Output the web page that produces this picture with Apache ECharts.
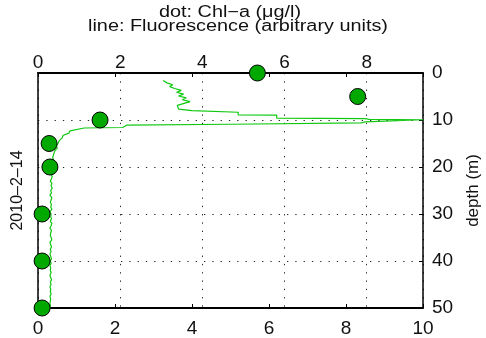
<!DOCTYPE html>
<html><head><meta charset="utf-8">
<script src="https://cdn.jsdelivr.net/npm/echarts@6/dist/echarts.min.js"></script>
<style>html,body{margin:0;padding:0;background:#fff}#c{width:486px;height:338px}</style>
</head><body><div id="c"></div>
<script>
var titleLines = ['dot: Chl\u2212a (\u03bcg/l)', 'line: Fluorescence (arbitrary units)'];
var dateLabel = '2010\u20132\u201314';
var depthName = 'depth (m)';
var chlDepth = [0, 5, 10, 15, 20, 30, 40, 50];
var chlValue = [5.34, 7.78, 1.51, 0.27, 0.29, 0.1, 0.1, 0.1];
var fluorDepth = [1.6,2.1,2.5,2.9,3.3,3.7,4.1,4.5,4.9,5.3,5.7,6.1,6.5,6.9,7.3,7.7,8.0,8.3,8.35,8.9,8.95,9.6,9.7,9.85,9.95,10.1,10.4,10.6,10.9,11.1,11.3,11.6,11.7,12.1,12.3,12.8,13.3,13.8,14.4,15.0,15.5,16.0,16.5,17.0,17.5,18.0,18.5,19.0,
19.5,20,20.5,21,21.5,22,22.5,23,23.5,24,24.5,25,25.5,26,26.5,27,27.5,28,28.5,29,29.5,30,30.5,31,31.5,32,32.5,33,33.5,34,34.5,35,35.5,36,36.5,37,37.5,38,38.5,39,39.5,40,40.5,41,41.5,42,42.5,43,43.5,44,44.5,45,45.5,46,46.5,47,47.5,48,48.5,49,49.5,50];
var fluorValue = [3.25,3.35,3.5,3.42,3.55,3.72,3.6,3.78,3.65,3.85,3.75,3.95,4.0,3.62,3.6,3.65,4.0,4.0,5.2,5.2,6.2,6.2,8.5,8.6,10.0,9.95,8.5,8.4,5.0,2.3,2.26,2.2,1.2,1.17,0.83,0.8,0.65,0.63,0.55,0.52,0.48,0.5,0.44,0.42,0.4,0.38,0.41,0.37,
0.35,0.38,0.34,0.36,0.33,0.37,0.35,0.32,0.36,0.34,0.37,0.33,0.35,0.31,0.36,0.34,0.32,0.35,0.33,0.36,0.31,0.34,0.33,0.35,0.32,0.36,0.34,0.31,0.35,0.33,0.32,0.34,0.36,0.31,0.33,0.35,0.32,0.34,0.31,0.33,0.35,0.32,0.34,0.31,0.33,0.32,0.34,0.31,0.33,0.35,0.32,0.34,0.31,0.33,0.32,0.34,0.31,0.33,0.32,0.31,0.32,0.31];
var fluorTicks = [0, 2, 4, 6, 8, 10];
var chlTicks = [0, 2, 4, 6, 8];
var depthTicks = [0, 10, 20, 30, 40, 50];

var font = 'Liberation Sans, Arial, Helvetica, sans-serif';
var dotted = {color: '#222', width: 1, type: [1.3, 7]};
var chart = echarts.init(document.getElementById('c'));
var fluorData = fluorDepth.map(function (d, i) { return [fluorValue[i], d]; });
var chlData = chlDepth.map(function (d, i) { return [chlValue[i], d]; });
chart.setOption({
  animation: false,
  graphic: [
    {type: 'text', x: 230, y: 12.5, scaleX: 1.24, z: 10,
     style: {text: titleLines[0], font: '16px ' + font, fill: '#111', textAlign: 'center', textVerticalAlign: 'middle'}},
    {type: 'text', x: 238, y: 26.5, scaleX: 1.24, z: 10,
     style: {text: titleLines[1], font: '16px ' + font, fill: '#111', textAlign: 'center', textVerticalAlign: 'middle'}}
  ],
  grid: {left: 38, right: 63, top: 73, bottom: 30, containLabel: false, outerBoundsMode: 'none'},
  xAxis: [
    {type: 'value', position: 'bottom', min: fluorTicks[0], max: fluorTicks[fluorTicks.length - 1], interval: 2,
     axisLine: {show: true, onZero: false, lineStyle: {color: '#000', width: 2}},
     axisTick: {show: true, inside: true, length: 4, lineStyle: {color: '#000'}},
     axisLabel: {show: true, margin: 11, fontFamily: font, fontSize: 19, color: '#111'},
     splitLine: {show: false}},
    {type: 'value', position: 'top', min: chlTicks[0], max: 9.37, interval: 2,
     axisLine: {show: true, onZero: false, lineStyle: {color: '#000', width: 2}},
     axisTick: {show: false},
     axisLabel: {show: true, margin: 1, fontFamily: font, fontSize: 19, color: '#111', showMaxLabel: false},
     splitLine: {show: true, lineStyle: dotted}},
    {type: 'value', position: 'top', min: fluorTicks[0], max: fluorTicks[fluorTicks.length - 1], interval: 2,
     axisLine: {show: false, onZero: false},
     axisTick: {show: true, inside: true, length: 4, lineStyle: {color: '#000'}},
     axisLabel: {show: false}, splitLine: {show: false}}
  ],
  yAxis: [
    {type: 'value', position: 'right', inverse: true, min: depthTicks[0], max: depthTicks[depthTicks.length - 1], interval: 10,
     name: depthName, nameLocation: 'middle', nameGap: 42, nameRotate: 90,
     nameTextStyle: {fontFamily: font, fontSize: 17, color: '#111'},
     axisLine: {show: true, onZero: false, lineStyle: {color: '#000', width: 1.5}},
     axisTick: {show: true, inside: true, length: 4, lineStyle: {color: '#000'}},
     axisLabel: {show: true, margin: 9, fontFamily: font, fontSize: 19, color: '#111'},
     splitLine: {show: true, lineStyle: dotted}},
    {type: 'value', position: 'left', inverse: true, min: depthTicks[0], max: depthTicks[depthTicks.length - 1], interval: 10,
     name: dateLabel, nameLocation: 'middle', nameGap: 12, nameRotate: 90,
     nameTextStyle: {fontFamily: font, fontSize: 16, color: '#111'},
     axisLine: {show: true, onZero: false, lineStyle: {color: '#000', width: 1.5}},
     axisTick: {show: false}, axisLabel: {show: false}, splitLine: {show: false}}
  ],
  series: [
    {type: 'line', xAxisIndex: 0, yAxisIndex: 0, data: fluorData, symbol: 'none', smooth: false,
     lineStyle: {color: '#10c810', width: 1.2}, z: 3},
    {type: 'scatter', xAxisIndex: 1, yAxisIndex: 0, data: chlData, symbol: 'circle', symbolSize: 16, clip: false,
     itemStyle: {color: '#00a800', borderColor: '#000', borderWidth: 1, opacity: 1}, z: 5}
  ]
});
</script></body></html>
